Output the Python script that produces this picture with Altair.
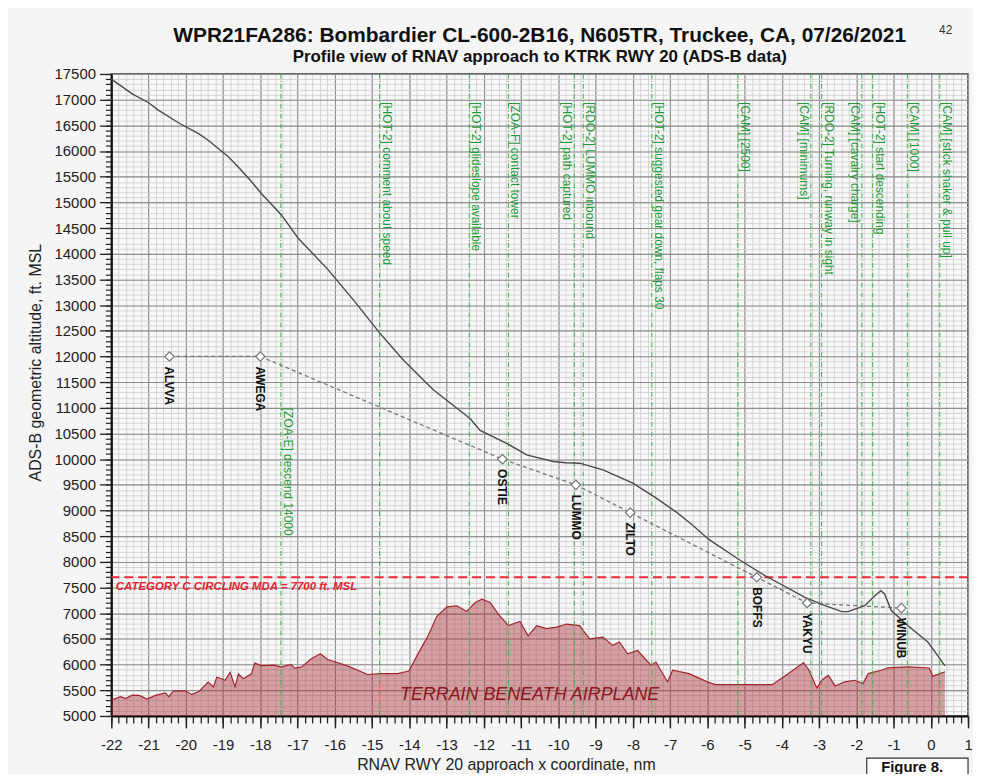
import altair as alt
import numpy as np
import pandas as pd

FONT = "Liberation Sans, Arial, Helvetica, sans-serif"

# ---- ADS-B flight path (x coordinate nm, altitude ft MSL)
path_x = [-22.0, -21.44, -21.0, -20.73, -20.2, -19.66, -19.4, -19.13, -18.86, -18.6, -18.24,
          -17.98, -17.44, -16.99, -16.19, -15.48, -14.81, -14.15, -13.61, -13.34, -12.37,
          -12.1, -11.39, -10.85, -10.14, -9.8, -9.43, -8.8, -8.0, -7.38, -6.85, -6.4, -5.96,
          -5.16, -4.44, -4.0, -3.38, -2.84, -2.39, -2.22, -1.77, -1.5, -1.34, -1.24, -1.06,
          -0.62, -0.08, 0.18, 0.38]
path_alt = [17400, 17113, 16940, 16792, 16550, 16339, 16210, 16049, 15888, 15695, 15405,
            15178, 14760, 14307, 13696, 13082, 12469, 11921, 11534, 11341, 10793,
            10560, 10310, 10083, 9955, 9930, 9922, 9793, 9535, 9245, 8980, 8720, 8438,
            8052, 7729, 7555, 7310, 7148, 7032, 7032, 7148, 7342, 7439, 7375, 7052,
            6762, 6439, 6181, 5975]

# ---- terrain beneath airplane
terrain_x = [-22.0, -21.75, -21.62, -21.44, -21.25, -21.04, -20.82, -20.55, -20.46, -20.33,
             -20.02, -19.84, -19.66, -19.4, -19.26, -19.17, -19.04, -18.95, -18.81, -18.68,
             -18.59, -18.46, -18.24, -18.15, -17.97, -17.62, -17.44, -17.26, -17.17, -17.08,
             -16.9, -16.64, -16.39, -16.19, -15.66, -15.12, -14.77, -14.32, -14.01, -13.79,
             -13.52, -13.26, -12.99, -12.72, -12.46, -12.23, -12.05, -11.83, -11.61, -11.34,
             -11.03, -10.81, -10.58, -10.32, -10.05, -9.78, -9.43, -9.16, -8.8, -8.54,
             -8.36, -8.14, -7.87, -7.51, -7.38, -7.07, -6.93, -6.49, -6.0, -5.78,
             -4.26, -3.82, -3.42, -3.29, -3.06, -2.93, -2.75, -2.57, -2.31, -2.04,
             -1.82, -1.68, -1.33, -1.15, -0.62, -0.04, 0.05, 0.18, 0.38]
terrain_alt = [5310, 5375, 5340, 5405, 5400, 5330, 5400, 5450, 5375, 5490,
               5490, 5420, 5470, 5660, 5565, 5755, 5725, 5690, 5850, 5565,
               5820, 5725, 5820, 6030, 5980, 5990, 5950, 5990, 6000, 5930,
               5950, 6110, 6210, 6100, 5975, 5808, 5825, 5825, 5875, 6180,
               6530, 6940, 7125, 7145, 7035, 7210, 7275, 7210, 6985, 6760,
               6840, 6560, 6760, 6700, 6730, 6790, 6760, 6500, 6535, 6375,
               6440, 6210, 6275, 5985, 6050, 5666, 5890, 5825, 5665, 5610,
               5610, 5825, 6035, 5920, 5545, 5695, 5790, 5585, 5665, 5695,
               5630, 5825, 5890, 5935, 5955, 5935, 5775, 5805, 5860]

# ---- published waypoints
wp_names = ["ALVVA", "AWEGA", "OSTIE", "LUMMO", "ZILTO", "BOFFS", "YAKYU", "WINUB"]
wp_x = [-20.44, -18.0, -11.5, -9.53, -8.07, -4.67, -3.32, -0.79]
wp_alt = [12000, 12000, 10000, 9500, 8960, 7700, 7200, 7100]

# ---- CVR / ATC events
event_x = [-17.45, -14.8, -12.39, -11.34, -9.57, -9.33, -7.49, -5.18, -3.22, -2.93,
           -1.85, -1.56, -0.63, 0.24]
event_labels = ["[ZOA-E] descend 14000", "[HOT-2] comment about speed",
                "[HOT-2] glideslope available", "[ZOA-F] contact tower",
                "[HOT-2] path captured", "[RDO-2] LUMMO inbound",
                "[HOT-2] suggested gear down, flaps 30", "[CAM] [2500]",
                "[CAM] [minimums]", "[RDO-2] Turning, runway in sight",
                "[CAM] [cavalry charge]", "[HOT-2] start descending",
                "[CAM] [1000]", "[CAM] [stick shaker & pull up]"]
# events whose label sits on the left of its line
left_labels = ["[HOT-2] path captured", "[CAM] [minimums]", "[CAM] [cavalry charge]"]
low_labels = ["[ZOA-E] descend 14000"]

mda_alt = 7700
mda_label = "CATEGORY C CIRCLING MDA = 7700 ft. MSL"
terrain_label = "TERRAIN BENEATH AIRPLANE"

x_domain = [-22, 1]
y_domain = [5000, 17500]
x_minor = [float(v) for v in np.round(np.arange(-22, 1.0001, 0.2), 1)]
x_major = list(range(-22, 2))
y_minor = list(range(5000, 17501, 100))
y_major = list(range(5000, 17501, 500))

path_df = pd.DataFrame({"x": path_x, "alt": path_alt})
terr_df = pd.DataFrame({"x": terrain_x, "alt": terrain_alt})
wp_df = pd.DataFrame({"name": wp_names, "x": wp_x, "alt": wp_alt})
ev_df = pd.DataFrame({"x": event_x, "label": event_labels})

xs = alt.Scale(domain=x_domain, nice=False, zero=False)
ys = alt.Scale(domain=y_domain, nice=False, zero=False)

x_minor_axis = alt.Axis(
    orient="bottom", values=x_minor, labels=False, title=None,
    tickSize=7, tickColor="#222", tickWidth=1.3,
    domain=True, domainColor="#111", domainWidth=2,
    grid=True, gridColor="#cdcdcd", gridWidth=0.8,
)
y_minor_axis = alt.Axis(
    orient="left", values=y_minor, labels=False, title=None,
    tickSize=6, tickColor="#222", tickWidth=1.2,
    domain=True, domainColor="#111", domainWidth=2,
    grid=True, gridColor="#cdcdcd", gridWidth=0.8,
)
x_major_axis = alt.Axis(
    orient="bottom", values=x_major,
    title="RNAV RWY 20 approach x coordinate, nm",
    labelExpr="toString(datum.value)",
    labelOverlap=False, labelFlush=False, labelFontSize=15, labelFont=FONT,
    labelColor="#222", labelPadding=10,
    tickSize=12, tickColor="#222", tickWidth=1.5,
    domain=False,
    grid=True, gridColor="#8f8f8f", gridWidth=1.1,
    titleFontSize=16, titleFont=FONT, titleFontWeight="normal", titleColor="#222",
    titleX=397, titleY=49, titleBaseline="middle",
)
y_major_axis = alt.Axis(
    orient="left", values=y_major,
    title="ADS-B geometric altitude, ft. MSL",
    labelExpr="toString(datum.value)",
    labelOverlap=False, labelFlush=False, labelFontSize=15, labelFont=FONT,
    labelColor="#222", labelPadding=4,
    tickSize=12, tickColor="#222", tickWidth=1.3,
    domain=False,
    grid=True, gridColor="#8f8f8f", gridWidth=1.1,
    titleFontSize=16, titleFont=FONT, titleFontWeight="normal", titleColor="#222",
    titleX=-76, titleY=290, titleBaseline="middle",
)


def X(field="x", axis=None):
    return alt.X(f"{field}:Q", scale=xs, axis=axis)


def Y(field="alt", axis=None):
    return alt.Y(f"{field}:Q", scale=ys, axis=axis)


def XD(v):
    return alt.X(datum=v, scale=xs, axis=None)


def YD(v):
    return alt.Y(datum=v, scale=ys, axis=None)


axes_minor = alt.Chart(terr_df).mark_point(opacity=0).encode(
    x=X(axis=x_minor_axis), y=Y(axis=y_minor_axis))
axes_major = alt.Chart(terr_df).mark_point(opacity=0).encode(
    x=X(axis=x_major_axis), y=Y(axis=y_major_axis))

terrain = alt.Chart(terr_df).mark_area(
    color="#a3262f", fillOpacity=0.42,
    line={"color": "#a3262f", "strokeWidth": 1.2},
).encode(x=X(), y=Y(), y2=alt.datum(y_domain[0]))

events = alt.Chart(ev_df).mark_rule(
    color="#3aae4c", strokeWidth=1, strokeDash=[5, 2, 1, 2]
).encode(x=X())

ev_style = dict(angle=90, align="left", baseline="middle", fontSize=12, font=FONT,
                color="#1f9a37")
is_left = ev_df["label"].isin(left_labels)
is_low = ev_df["label"].isin(low_labels)

ev_text_right = alt.Chart(ev_df[~is_left & ~is_low]).mark_text(dy=-7, **ev_style).encode(
    x=X(), y=YD(16950), text="label:N")
ev_text_left = alt.Chart(ev_df[is_left]).mark_text(dy=7, **ev_style).encode(
    x=X(), y=YD(16950), text="label:N")
ev_text_low = alt.Chart(ev_df[is_low]).mark_text(dy=-7, **ev_style).encode(
    x=X(), y=YD(11000), text="label:N")

mda_rule = alt.Chart(pd.DataFrame({"alt": [mda_alt]})).mark_rule(
    color="#ee2a36", strokeWidth=2, strokeDash=[9, 5]
).encode(y=Y())

mda_text = alt.Chart(pd.DataFrame({"t": [mda_label]})).mark_text(
    align="left", baseline="middle", fontSize=11.5, fontWeight="bold",
    fontStyle="italic", font=FONT, color="#e8202e",
).encode(x=XD(-21.88), y=YD(7510), text="t:N")

terr_text = alt.Chart(pd.DataFrame({"t": [terrain_label]})).mark_text(
    align="center", baseline="middle", fontSize=18, fontStyle="italic", font=FONT,
    color="#8e1620",
).encode(x=XD(-10.77), y=YD(5406), text="t:N")

proc_line = alt.Chart(wp_df).mark_line(
    color="#777", strokeWidth=1.3, strokeDash=[4, 3]
).encode(x=X(), y=Y(), order="x:Q")

wp_pts = alt.Chart(wp_df).mark_point(
    shape="diamond", size=90, filled=True, fill="white", stroke="#777",
    strokeWidth=1.2, opacity=1,
).encode(x=X(), y=Y())

wp_text = alt.Chart(wp_df).mark_text(
    angle=90, align="left", baseline="middle", dx=10, fontSize=12,
    fontWeight="bold", font=FONT, color="#111",
).encode(x=X(), y=Y(), text="name:N")

flight = alt.Chart(path_df).mark_line(
    color="#4a4a4a", strokeWidth=1.4
).encode(x=X(), y=Y(), order="x:Q")

page_num = alt.Chart(pd.DataFrame({"t": ["42"]})).mark_text(
    align="center", baseline="middle", fontSize=12, font=FONT, color="#333",
).encode(x=XD(0.4), y=YD(18346), text="t:N")

fig_box = alt.Chart(pd.DataFrame({"a": [0]})).mark_rect(
    fill="white", stroke="#333", strokeWidth=1.2
).encode(x=XD(-1.72), x2=alt.datum(1.0), y=YD(4180), y2=alt.datum(3600))

fig_text = alt.Chart(pd.DataFrame({"t": ["Figure 8."]})).mark_text(
    align="center", baseline="middle", fontSize=15, fontWeight="bold", font=FONT,
    color="#111",
).encode(x=XD(-0.5), y=YD(4000), text="t:N")

chart = alt.layer(
    axes_minor, axes_major, terrain, events, ev_text_right, ev_text_left, ev_text_low,
    mda_rule, mda_text, terr_text, proc_line, flight, wp_pts, wp_text, page_num,
    fig_box, fig_text,
).resolve_axis(
    x="independent", y="independent"
).properties(
    width=862, height=646,
    autosize=alt.AutoSizeParams(type="none"),
    padding={"left": 104, "top": 64, "right": 5, "bottom": 56},
    background="#f4f5f4",
    title=alt.TitleParams(
        text="WPR21FA286: Bombardier CL-600-2B16, N605TR, Truckee, CA, 07/26/2021",
        subtitle="Profile view of RNAV approach to KTRK RWY 20 (ADS-B data)",
        font=FONT, fontSize=21, fontWeight="bold", color="#111",
        subtitleFont=FONT, subtitleFontSize=17, subtitleFontWeight="bold",
        subtitleColor="#111", anchor="middle", frame="group", offset=9,
        subtitlePadding=3, dy=50,
    ),
).configure_view(
    fill="#f8f8f8", stroke="#333", strokeWidth=1.5
)

chart.save("out.html", embed_options={"renderer": "svg", "actions": False})
